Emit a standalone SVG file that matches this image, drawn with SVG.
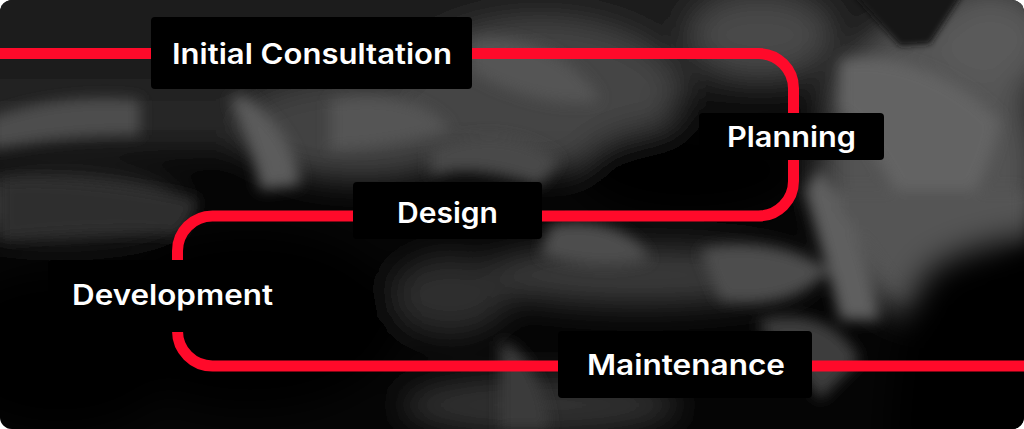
<svg xmlns="http://www.w3.org/2000/svg" width="1024" height="429" viewBox="0 0 1024 429">
<defs>
<clipPath id="card"><rect x="0" y="0" width="1024" height="429" rx="12" ry="12"/></clipPath>
<filter id="blurA" x="-30%" y="-30%" width="160%" height="160%"><feGaussianBlur stdDeviation="16"/></filter>
<filter id="blurB" x="-30%" y="-30%" width="160%" height="160%"><feGaussianBlur stdDeviation="7"/></filter>
<filter id="blurC" x="-30%" y="-30%" width="160%" height="160%"><feGaussianBlur stdDeviation="3"/></filter>
<style>
.lbl{fill:#000;}
.txt{fill:#fff;font-family:Inter,"Open Sans","Liberation Sans",sans-serif;font-weight:600;font-size:28px;text-anchor:middle;}
.route{fill:none;stroke:#ff0a2a;stroke-width:11;}
</style>
</defs>
<rect x="0" y="0" width="1024" height="429" fill="#ffffff"/>
<g id="background" clip-path="url(#card)">
<rect x="0" y="0" width="1024" height="429" fill="#050505"/>
<g filter="url(#blurA)">
<rect x="-40" y="-40" width="1100" height="140" fill="#1d1d1d"/>
<rect x="-40" y="90" width="330" height="60" fill="#262626"/>
<ellipse cx="60" cy="205" rx="120" ry="30" fill="#3a3a3a"/>
<ellipse cx="360" cy="130" rx="120" ry="50" fill="#424242"/>
<ellipse cx="540" cy="95" rx="140" ry="75" fill="#444"/>
<ellipse cx="760" cy="35" rx="70" ry="40" fill="#4a4a4a"/>
<ellipse cx="930" cy="170" rx="110" ry="150" fill="#525252"/>
<ellipse cx="990" cy="40" rx="60" ry="50" fill="#5a5a5a"/>
<ellipse cx="690" cy="170" rx="110" ry="45" fill="#040404"/>
<ellipse cx="640" cy="275" rx="170" ry="30" fill="#3a3a3a"/>
<ellipse cx="450" cy="295" rx="60" ry="40" fill="#2e2e2e"/>
<ellipse cx="540" cy="405" rx="140" ry="30" fill="#333"/>
<ellipse cx="250" cy="320" rx="150" ry="90" fill="#030303"/>
<ellipse cx="60" cy="350" rx="120" ry="80" fill="#030303"/>
</g>
<g filter="url(#blurB)">
<path d="M -10 118 C 40 100 90 95 140 100 L 140 135 C 90 135 40 140 -10 150 Z" fill="#4e4e4e"/>
<path d="M 240 95 C 270 110 300 150 300 185 L 260 190 C 255 150 240 120 230 100 Z" fill="#5c5c5c"/>
<path d="M 330 100 C 380 90 430 100 450 130 C 420 140 370 150 330 150 Z" fill="#555"/>
<path d="M 470 40 C 520 30 580 60 600 100 C 560 110 500 90 470 70 Z" fill="#555"/>
<path d="M 430 150 C 470 130 520 130 560 160 L 540 185 C 500 170 460 165 430 175 Z" fill="#4a4a4a"/>
<path d="M 840 60 C 900 50 960 80 1000 120 C 990 180 960 220 930 250 C 900 200 870 140 840 110 Z" fill="#646464"/>
<path d="M 820 170 C 850 200 870 260 880 320 L 840 320 C 830 270 815 220 805 190 Z" fill="#5e5e5e"/>
<path d="M 550 225 C 600 215 640 235 650 260 C 610 270 570 265 540 255 Z" fill="#4e4e4e"/>
<path d="M 700 250 C 740 240 790 245 830 270 C 800 300 760 305 720 300 Z" fill="#4e4e4e"/>
<path d="M 840 190 L 1024 190 L 1024 250 C 980 250 940 270 910 300 C 880 270 860 230 840 210 Z" fill="#555"/>
<path d="M 760 320 C 800 310 840 320 860 360 L 820 400 C 800 370 780 345 760 330 Z" fill="#3c3c3c"/>
<path d="M 500 340 C 530 350 545 390 550 429 L 500 429 Z" fill="#3a3a3a"/>
<path d="M 0 180 C 60 175 140 185 200 200 L 180 235 C 120 230 60 235 0 240 Z" fill="#2e2e2e"/>
</g>
<g filter="url(#blurA)">
<path d="M 930 270 C 960 250 1000 240 1060 235 L 1060 460 L 890 460 C 890 380 900 310 930 270 Z" fill="#030303"/>
</g>
<g filter="url(#blurC)">
<polygon points="850,-10 965,-10 930,44 900,46" fill="#141414"/>
</g>
</g>
<g id="connectors">
<path class="route" d="M -5 53.5 H 758.5 A 35 35 0 0 1 793.5 88.5 V 181 A 35 35 0 0 1 758.5 216 H 212.5 A 35 35 0 0 0 177.5 251 V 331 A 35 35 0 0 0 212.5 366 H 1030"/>
</g>
<g id="initial-consultation">
<rect class="lbl" x="151" y="17" width="321" height="72" rx="4"/>
<text class="txt" x="312" y="64" textLength="280" lengthAdjust="spacingAndGlyphs">Initial Consultation</text>
</g>
<g id="planning">
<rect class="lbl" x="699" y="113" width="185" height="47" rx="4"/>
<text class="txt" x="791.5" y="147" textLength="129" lengthAdjust="spacingAndGlyphs">Planning</text>
</g>
<g id="design">
<rect class="lbl" x="353" y="182" width="189" height="57" rx="4"/>
<text class="txt" x="447.5" y="223" textLength="101" lengthAdjust="spacingAndGlyphs">Design</text>
</g>
<g id="development">
<rect class="lbl" x="48" y="260" width="250" height="72" rx="4" fill="#030303"/>
<text class="txt" x="172.5" y="305" textLength="201" lengthAdjust="spacingAndGlyphs">Development</text>
</g>
<g id="maintenance">
<rect class="lbl" x="558" y="331" width="254" height="67" rx="4"/>
<text class="txt" x="686" y="375" textLength="198" lengthAdjust="spacingAndGlyphs">Maintenance</text>
</g>
</svg>
